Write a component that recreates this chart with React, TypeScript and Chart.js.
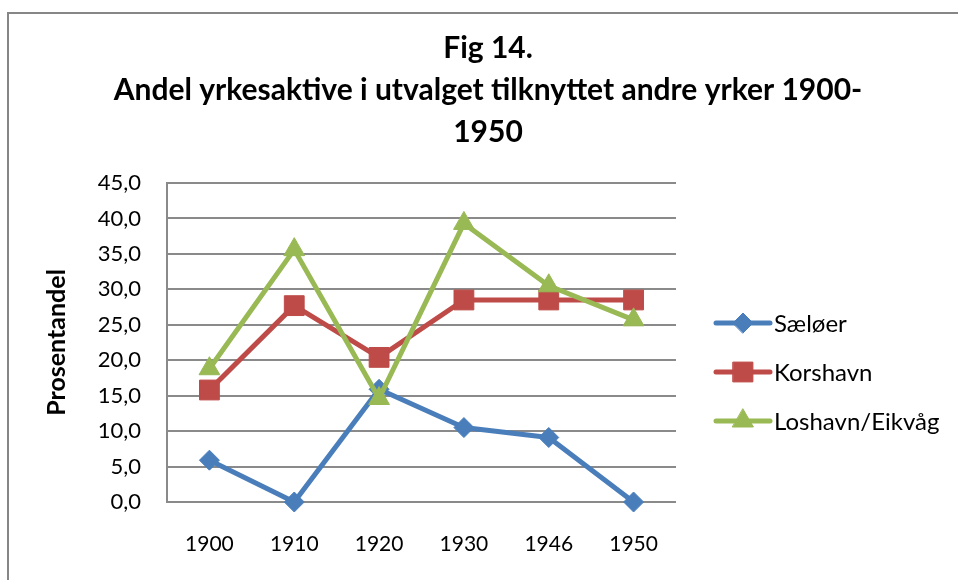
import React, { useEffect, useRef } from "react";
import { Chart, registerables } from "chart.js";
import { drawPoint } from "chart.js/helpers";

Chart.register(...registerables);

const categories = ["1900", "1910", "1920", "1930", "1946", "1950"];
const saeloer = [5.9, 0, 15.9, 10.5, 9.1, 0];
const korshavn = [15.8, 27.7, 20.4, 28.5, 28.5, 28.5];
const loshavn = [18.8, 35.6, 14.6, 39.3, 30.5, 25.7];
const seriesNames = ["Sæløer", "Korshavn", "Loshavn/Eikvåg"];
const titleLines = ["Fig 14.", "Andel yrkesaktive i utvalget tilknyttet andre yrker 1900-", "1950"];
const yTitle = "Prosentandel";

const FONT = "Lato, 'Liberation Sans', sans-serif";
const GRID = "#8a8a8a";

const legendPlugin = {
  id: "sideLegend",
  afterDraw(chart: any) {
    const ctx = chart.ctx;
    const area = chart.chartArea;
    const x0 = area.right + 40;
    const x1 = x0 + 54;
    const yStart = 323;
    const gap = 49;
    ctx.save();
    chart.data.datasets.forEach((ds: any, i: number) => {
      const y = yStart + i * gap;
      ctx.strokeStyle = ds.borderColor;
      ctx.lineWidth = 5;
      ctx.lineCap = "round";
      ctx.beginPath();
      ctx.moveTo(x0, y);
      ctx.lineTo(x1, y);
      ctx.stroke();
      ctx.fillStyle = ds.pointBackgroundColor;
      ctx.strokeStyle = ds.pointBorderColor;
      ctx.lineWidth = 1;
      drawPoint(ctx, { pointStyle: ds.pointStyle, radius: ds.pointRadius, rotation: 0, borderWidth: 1 } as any, (x0 + x1) / 2, y);
      ctx.fillStyle = "#000";
      ctx.font = `24px ${FONT}`;
      ctx.textBaseline = "middle";
      ctx.textAlign = "left";
      ctx.fillText(ds.label, x1 + 4, y + 1);
    });
    ctx.restore();
  },
};

export default function App() {
  const ref = useRef<HTMLCanvasElement | null>(null);
  useEffect(() => {
    if (!ref.current) return;
    const mk = (label: string, data: number[], color: string, style: string, r: number, order: number) => ({
      label,
      data,
      borderColor: color,
      backgroundColor: color,
      pointBackgroundColor: color,
      pointBorderColor: color,
      borderWidth: 5,
      borderJoinStyle: "round" as const,
      tension: 0,
      pointStyle: style,
      pointRadius: r,
      pointHoverRadius: r,
      pointBorderWidth: 1,
      clip: false,
      order,
    });
    const chart = new Chart(ref.current, {
      type: "line",
      data: {
        labels: categories,
        datasets: [
          mk(seriesNames[0], saeloer, "#4A7EBB", "rectRot", 10, 3),
          mk(seriesNames[1], korshavn, "#BE4B48", "rect", 14, 2),
          mk(seriesNames[2], loshavn, "#98B954", "triangle", 12, 1),
        ],
      },
      plugins: [legendPlugin],
      options: {
        responsive: false,
        animation: false,
        layout: { padding: { left: 18, right: 0, top: 0, bottom: 0 } },
        plugins: {
          legend: { display: false },
          tooltip: { enabled: false },
          title: {
            display: true,
            text: titleLines,
            color: "#000",
            font: { family: FONT, size: 30, weight: "bold", lineHeight: 1.4 },
            padding: { top: 27, bottom: 30 },
          },
        },
        scales: {
          x: {
            type: "category",
            offset: true,
            grid: { display: false, drawTicks: false },
            border: { display: false },
            ticks: { color: "#000", font: { family: FONT, size: 21 }, padding: 30, maxRotation: 0 },
            afterFit: (s: any) => {
              s.height = 78;
            },
          },
          y: {
            type: "linear",
            position: "left",
            min: 0,
            max: 45,
            ticks: {
              stepSize: 5,
              color: "#000",
              font: { family: FONT, size: 22 },
              padding: 26,
              callback: (v: any) => Number(v).toFixed(1).replace(".", ","),
            },
            grid: { color: GRID, lineWidth: 2, drawTicks: false },
            border: { display: true, color: GRID, width: 2 },
            title: {
              display: true,
              text: yTitle,
              color: "#000",
              font: { family: FONT, size: 25, weight: "bold" },
              padding: { top: 24, bottom: 0 },
            },
            afterFit: (s: any) => {
              s.width = 149;
            },
          },
          yRight: {
            type: "linear",
            position: "right",
            display: true,
            grid: { display: false, drawTicks: false },
            border: { display: false },
            ticks: { display: false },
            afterFit: (s: any) => {
              s.width = 282;
            },
          },
        },
      },
    } as any);
    return () => chart.destroy();
  }, []);
  return (
    <div style={{ position: "fixed", left: 0, top: 0, width: 958, height: 580, background: "#fff", overflow: "hidden" }}>
      <div
        style={{
          position: "absolute",
          left: 7,
          top: 12,
          width: 2000,
          height: 2000,
          borderLeft: "2px solid #868686",
          borderTop: "2px solid #868686",
        }}
      />
      <canvas ref={ref} width={958} height={580} style={{ position: "absolute", left: 0, top: 0 }} />
    </div>
  );
}
